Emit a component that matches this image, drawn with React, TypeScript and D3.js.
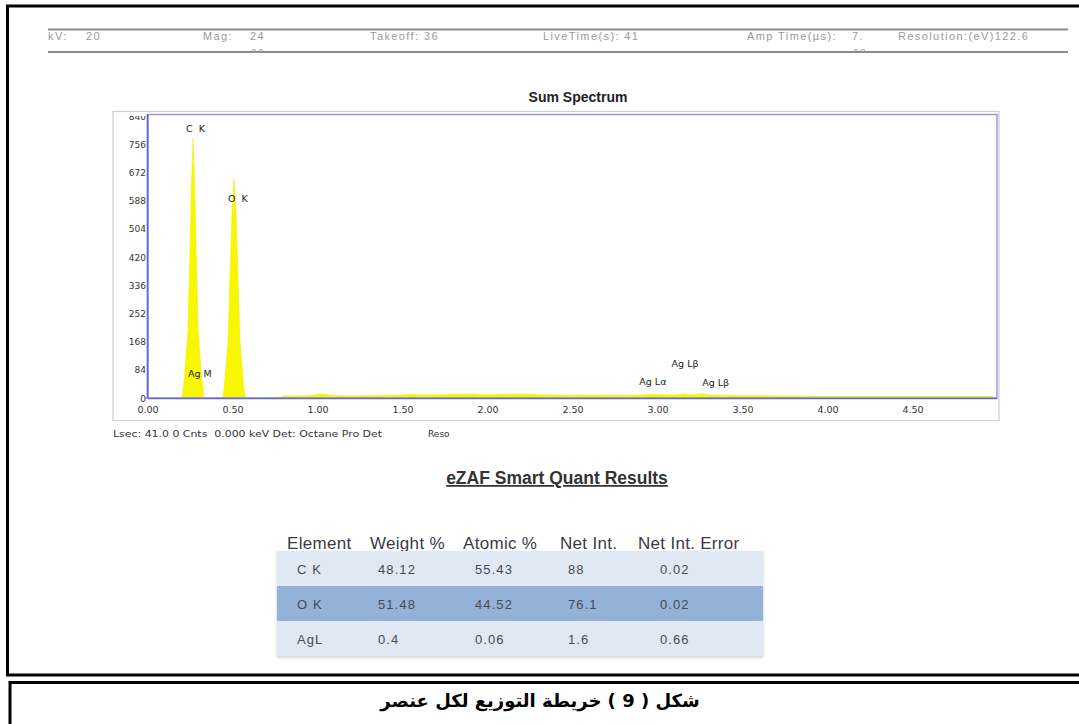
import React from "react";
import * as d3 from "d3";

// ---------- data ----------
const spectrumKeV = [
  0.0, 0.1, 0.2, 0.21, 0.22, 0.225, 0.235, 0.245, 0.255, 0.265, 0.275, 0.285, 0.295, 0.305, 0.31, 0.32, 0.33,
  0.44, 0.45, 0.46, 0.47, 0.482, 0.494, 0.506, 0.518, 0.53, 0.542, 0.552, 0.562, 0.572,
  0.7, 0.78, 0.8, 0.9, 0.98, 1.02, 1.06, 1.1, 1.2, 1.3, 1.4, 1.5, 1.55, 1.6, 1.7, 1.8, 1.9, 2.0, 2.1, 2.2,
  2.3, 2.4, 2.5, 2.6, 2.7, 2.8, 2.9, 2.98, 3.02, 3.1, 3.15, 3.2, 3.26, 3.3, 3.4, 3.5, 3.6, 3.7, 3.8, 3.9,
  4.0, 4.2, 4.4, 4.6, 4.8, 4.97, 4.971,
];
const spectrumCounts = [
  0, 0, 0, 40, 95, 130, 200, 400, 620, 772, 620, 400, 200, 130, 95, 40, 0,
  0, 40, 100, 160, 350, 550, 653, 550, 350, 160, 100, 40, 0,
  0, 3, 6, 6, 9, 12, 10, 7, 6, 7, 8, 9, 11, 9, 10, 11, 12, 10, 11, 12,
  10, 9, 8, 9, 8, 8, 9, 11, 10, 9, 12, 10, 13, 9, 8, 7, 7, 6, 6, 5,
  5, 5, 5, 5, 5, 5, 0,
];
const yTicks = [0, 84, 168, 252, 336, 420, 504, 588, 672, 756, 840];
const xTicks = [0, 0.5, 1, 1.5, 2, 2.5, 3, 3.5, 4, 4.5];
const peakNames = ["C\u00a0\u00a0K", "O\u00a0\u00a0K", "Ag\u00a0M", "Ag\u00a0L\u03b2", "Ag\u00a0L\u03b1", "Ag\u00a0L\u03b2"];
const peakKeV = [0.224, 0.47, 0.235, 3.08, 2.89, 3.26];
const peakCounts = [792, 585, 62, 92, 39, 36];

const tableHeaders = ["Element", "Weight %", "Atomic %", "Net Int.", "Net Int. Error"];
const elements = ["C K", "O K", "AgL"];
const weightPct = ["48.12", "51.48", "0.4"];
const atomicPct = ["55.43", "44.52", "0.06"];
const netInt = ["88", "76.1", "1.6"];
const netIntError = ["0.02", "0.02", "0.66"];

const headerLabels = ["kV:", "Mag:", "Takeoff:", "LiveTime(s):", "Amp Time(\u00b5s):", "Resolution:(eV)"];
const headerValues = ["20", "24", "36", "41", "7.", "122.6"];
const headerExtras = ["", "00", "", "", "68", ""];

// ---------- layout ----------
const W = 1079;
const H = 724;
const plot = { left: 148, right: 997, top: 116, bottom: 398 };

export default function App() {
  const x = d3.scaleLinear().domain([0, 4.994]).range([plot.left, plot.right]);
  const y = d3.scaleLinear().domain([0, 840]).range([plot.bottom, plot.top]);
  const pts = spectrumKeV.map((k, i) => [k, spectrumCounts[i]] as [number, number]);
  const area = d3
    .area<[number, number]>()
    .x((d) => x(d[0]))
    .y0(y(0))
    .y1((d) => y(d[1]))
    .curve(d3.curveLinear)(pts) as string;

  const headerX = [48, 203, 370, 543, 747, 898];
  // x of separate value text (null => appended to label)
  const headerValX: (number | null)[] = [86, 250, null, null, 852, null];

  const colHeadX = [287, 370, 463, 560, 638];
  const colDataX = [297, 378, 475, 568, 660];
  const rowTop = 551;
  const rowH = 35;
  const tableL = 277;
  const tableR = 763;
  const rows = elements.map((e, i) => [e, weightPct[i], atomicPct[i], netInt[i], netIntError[i]]);

  return (
    <svg
      width={W}
      height={H}
      viewBox={`0 0 ${W} ${H}`}
      style={{ position: "absolute", left: 0, top: 0, display: "block", background: "#fff" }}
    >
      <defs>
        <clipPath id="hdrclip">
          <rect x={0} y={0} width={W} height={52} />
        </clipPath>
        <clipPath id="plotclip">
          <rect x={0} y={plot.top} width={W} height={400} />
        </clipPath>
        <filter id="shadow" x="-5%" y="-5%" width="110%" height="115%">
          <feDropShadow dx="0" dy="1.5" stdDeviation="1.5" floodColor="#999" floodOpacity="0.5" />
        </filter>
      </defs>

      {/* outer frames */}
      <rect x={7.5} y={6} width={W + 10} height={669} fill="none" stroke="#000" strokeWidth={3} />
      <rect x={10} y={682.5} width={W + 10} height={60} fill="none" stroke="#000" strokeWidth={3} />

      {/* header */}
      <line x1={48} x2={1068} y1={29.5} y2={29.5} stroke="#8a8a8a" strokeWidth={2} />
      <line x1={48} x2={1068} y1={52} y2={52} stroke="#8a8a8a" strokeWidth={2} />
      <g
        fontFamily="Liberation Sans, Arial, sans-serif"
        fontSize={11}
        letterSpacing={1.4}
        fill="#9a9a9a"
        clipPath="url(#hdrclip)"
      >
        {headerLabels.map((lab, i) => (
          <g key={i}>
            <text x={headerX[i]} y={40}>
              {headerValX[i] === null ? lab + (i === 5 ? "" : " ") + headerValues[i] : lab}
            </text>
            {headerValX[i] !== null && (
              <text x={headerValX[i] as number} y={40}>
                {headerValues[i]}
              </text>
            )}
            {headerExtras[i] && (
              <text x={(headerValX[i] as number) + 1} y={57} fontSize={10}>
                {headerExtras[i]}
              </text>
            )}
          </g>
        ))}
      </g>

      {/* title */}
      <text
        x={578}
        y={102}
        textAnchor="middle"
        fontFamily="Liberation Sans, Arial, sans-serif"
        fontWeight="bold"
        fontSize={14}
        fill="#222"
      >
        Sum Spectrum
      </text>

      {/* chart box */}
      <rect x={113} y={111.5} width={886} height={309} fill="#fff" stroke="#cfcfcf" strokeWidth={1.2} />
      <path d={area} fill="#f7f700" stroke="#f2f200" strokeWidth={0.6} />
      <rect
        x={plot.left}
        y={plot.top - 1.5}
        width={plot.right - plot.left}
        height={plot.bottom - plot.top + 1.5}
        fill="none"
        stroke="#9a9ae0"
        strokeWidth={1.5}
      />
      <line x1={plot.left - 0.5} x2={plot.left - 0.5} y1={plot.top - 2} y2={plot.bottom} stroke="#6464c8" strokeWidth={1.6} />
      <line x1={plot.left} x2={plot.right} y1={plot.bottom + 0.5} y2={plot.bottom + 0.5} stroke="#6a6acb" strokeWidth={1.4} />

      {/* y ticks */}
      <g fontFamily="DejaVu Sans, Verdana, sans-serif" fontSize={9} fill="#333" clipPath="url(#plotclip)">
        {yTicks.map((t) => (
          <text key={t} x={plot.left - 2} y={y(t) + 3.5} textAnchor="end">
            {t}
          </text>
        ))}
      </g>
      <line x1={plot.left - 3} x2={plot.left} y1={y(0)} y2={y(0)} stroke="#6464c8" strokeWidth={1} />

      {/* x ticks */}
      <g fontFamily="DejaVu Sans, Verdana, sans-serif" fontSize={9.5} fill="#333">
        {xTicks.map((t) => (
          <text key={t} x={x(t)} y={plot.bottom + 15} textAnchor="middle">
            {t.toFixed(2)}
          </text>
        ))}
      </g>

      {/* peak labels */}
      <g fontFamily="DejaVu Sans, Verdana, sans-serif" fontSize={9.5} fill="#222">
        {peakNames.map((n, i) => (
          <text key={i} x={x(peakKeV[i])} y={y(peakCounts[i])}>
            {n}
          </text>
        ))}
      </g>

      {/* info line */}
      <g fontFamily="DejaVu Sans, Verdana, sans-serif" fontSize={9} fill="#333">
        <text x={113} y={437} textLength={269} lengthAdjust="spacingAndGlyphs">
          Lsec: 41.0 0 Cnts&#160; 0.000 keV Det: Octane Pro Det
        </text>
        <text x={428} y={437}>
          Reso
        </text>
      </g>

      {/* results title */}
      <text
        x={557}
        y={484}
        textAnchor="middle"
        fontFamily="Liberation Sans, Arial, sans-serif"
        fontWeight="bold"
        fontSize={17.5}
        fill="#333"
        textDecoration="underline"
      >
        eZAF Smart Quant Results
      </text>

      {/* table */}
      <g fontFamily="Liberation Sans, Arial, sans-serif">
        {tableHeaders.map((h, i) => (
          <text key={h} x={colHeadX[i]} y={549} fontSize={17} letterSpacing={0.3} fill="#3a3a4a">
            {h}
          </text>
        ))}
        <g filter="url(#shadow)">
          {rows.map((r, i) => (
            <rect
              key={i}
              x={tableL}
              y={rowTop + i * rowH}
              width={tableR - tableL}
              height={rowH}
              fill={i === 1 ? "#94b1d8" : "#dfe8f3"}
            />
          ))}
        </g>
        {rows.map((r, i) =>
          r.map((c, j) => (
            <text
              key={i + "-" + j}
              x={colDataX[j]}
              y={rowTop + i * rowH + rowH / 2 + 5}
              fontSize={13}
              letterSpacing={1.1}
              fill="#4a4a55"
            >
              {c}
            </text>
          ))
        )}
      </g>

      {/* caption */}
      <text
        x={540}
        y={707}
        textAnchor="middle"
        direction="rtl"
        fontFamily="DejaVu Sans, sans-serif"
        fontWeight="bold"
        fontSize={18}
        fill="#000"
      >
        شكل ( 9 ) خريطة التوزيع لكل عنصر
      </text>
    </svg>
  );
}
